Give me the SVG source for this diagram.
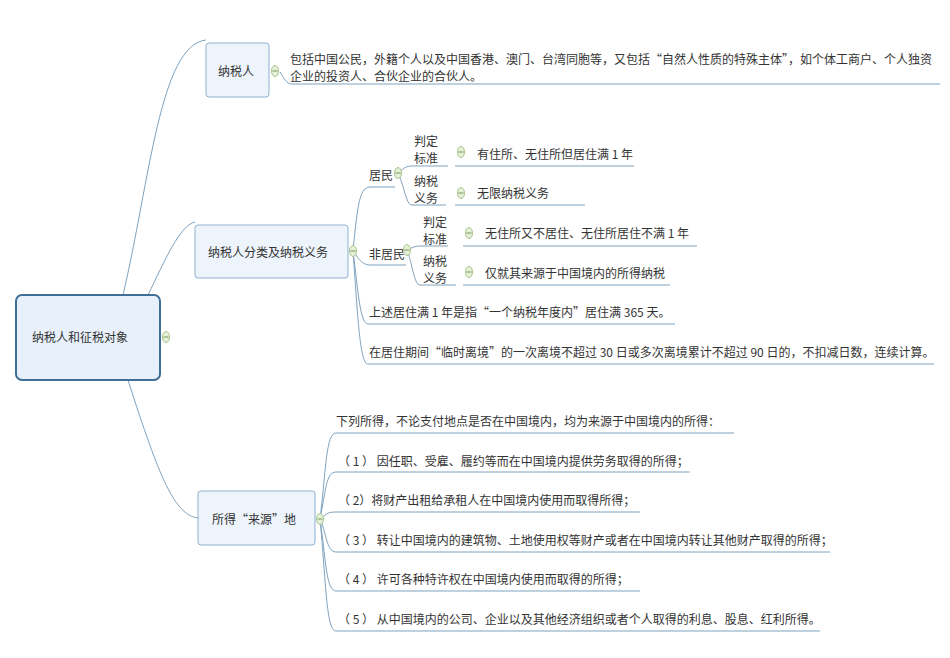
<svg xmlns="http://www.w3.org/2000/svg" width="950" height="658" viewBox="0 0 950 658">
<style>
text{font-family:"Noto Sans CJK SC","Liberation Sans",sans-serif;font-size:12px;fill:#333}
.n{fill:#eef4fc;stroke:#8fb0cf;stroke-width:1}
.c{fill:none;stroke:#7fa3bf;stroke-width:1}
.k{fill:#e4f0d8;stroke:#a8c48c;stroke-width:1}
.m{stroke:#7a9a5a;stroke-width:1}
</style>
<defs>
<g id="col"><ellipse cx="0" cy="0" rx="3.5" ry="5.5" class="k"/><line x1="-2.5" y1="0" x2="2.5" y2="0" class="m"/></g>
</defs>
<g id="connectors" class="c">
<path d="M123 295 C150 180 160 45 206 40"/>
<path d="M148 295 C165 260 180 225 195 222"/>
<path d="M128 380 C160 480 175 515 198 518"/>
<path d="M280 72 C284 78 286 84 292 84 L940 84"/>
<path d="M353 251 C358 200 360 188 370 187 L395 187"/>
<path d="M353 251 C358 258 362 265 370 265 L406 265"/>
<path d="M353 251 C358 290 360 324 368 324 L675 324"/>
<path d="M353 251 C358 320 360 364 368 364 L934 364"/>
<path d="M398 173 C404 168 406 166 412 166 L448 166"/>
<path d="M398 173 C404 185 406 205 412 205 L446 205"/>
<path d="M407 250 C412 248 414 246 420 246 L448 246"/>
<path d="M407 250 C412 262 414 285 420 285 L456 285"/>
<path d="M455 166 L634 166"/><path d="M455 205 L585 205"/>
<path d="M463 246 L697 246"/><path d="M463 285 L670 285"/>
<path d="M320 519 C326 470 326 433 336 433 L734 433"/>
<path d="M320 519 C326 490 326 472 336 472 L690 472"/>
<path d="M320 519 C326 515 326 512 336 512 L640 512"/>
<path d="M320 519 C326 530 326 552 336 552 L830 552"/>
<path d="M320 519 C326 560 326 591 336 591 L640 591"/>
<path d="M320 519 C326 580 326 631 336 631 L820 631"/>
</g>
<g id="root"><rect x="16" y="295" width="144" height="85" rx="6" fill="#e8f1fb" stroke="#3f6e97" stroke-width="2"/><text x="32" y="342">纳税人和征税对象</text><use href="#col" x="166" y="337"/></g>
<g id="n1"><rect x="206" y="43" width="63" height="54" rx="3" class="n"/><text x="218" y="76">纳税人</text><use href="#col" x="275" y="71"/>
<text x="290" y="64">包括中国公民，外籍个人以及中国香港、澳门、台湾同胞等，又包括“自然人性质的特殊主体”，如个体工商户、个人独资</text><text x="290" y="81">企业的投资人、合伙企业的合伙人。</text></g>
<g id="n2"><rect x="195" y="225" width="153" height="53" rx="3" class="n"/><text x="208" y="257">纳税人分类及纳税义务</text><use href="#col" x="353" y="251"/></g>
<g id="n2a"><text x="369" y="180">居民</text><use href="#col" x="398" y="173"/>
<text x="414" y="146">判定</text><text x="414" y="163">标准</text><use href="#col" x="461" y="152"/><text x="477" y="159">有住所、无住所但居住满 1 年</text>
<text x="414" y="186">纳税</text><text x="414" y="203">义务</text><use href="#col" x="461" y="193"/><text x="477" y="198">无限纳税义务</text></g>
<g id="n2b"><text x="369" y="259">非居民</text><use href="#col" x="407" y="250"/>
<text x="423" y="227">判定</text><text x="423" y="244">标准</text><use href="#col" x="469" y="233"/><text x="485" y="238">无住所又不居住、无住所居住不满 1 年</text>
<text x="423" y="266">纳税</text><text x="423" y="283">义务</text><use href="#col" x="469" y="272"/><text x="485" y="278">仅就其来源于中国境内的所得纳税</text></g>
<g id="n2c"><text x="369" y="317">上述居住满 1 年是指“一个纳税年度内”居住满 365 天。</text></g>
<g id="n2d"><text x="369" y="357">在居住期间“临时离境”的一次离境不超过 30 日或多次离境累计不超过 90 日的，不扣减日数，连续计算。</text></g>
<g id="n3"><rect x="198" y="491" width="117" height="54" rx="3" class="n"/><text x="212" y="524">所得“来源”地</text><use href="#col" x="320" y="519"/>
<text x="336" y="426">下列所得，不论支付地点是否在中国境内，均为来源于中国境内的所得：</text>
<text x="338" y="466">（ 1 ） 因任职、受雇、履约等而在中国境内提供劳务取得的所得；</text>
<text x="338" y="505">（ 2）将财产出租给承租人在中国境内使用而取得所得；</text>
<text x="338" y="545">（ 3 ） 转让中国境内的建筑物、土地使用权等财产或者在中国境内转让其他财产取得的所得；</text>
<text x="338" y="584">（ 4 ） 许可各种特许权在中国境内使用而取得的所得；</text>
<text x="338" y="624">（ 5 ） 从中国境内的公司、企业以及其他经济组织或者个人取得的利息、股息、红利所得。</text></g>
</svg>
